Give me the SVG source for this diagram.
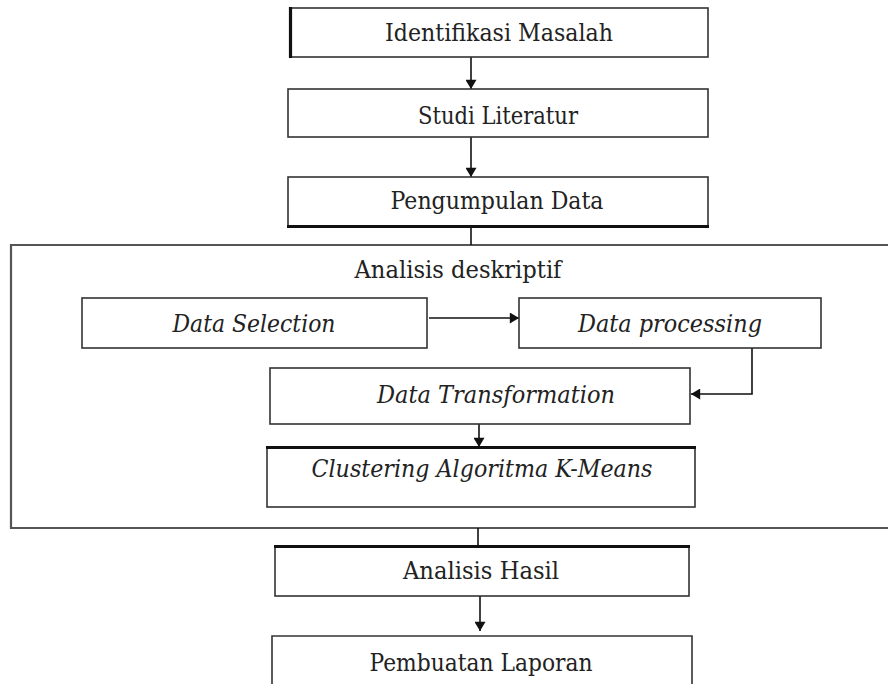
<svg xmlns="http://www.w3.org/2000/svg" width="888" height="684" viewBox="0 0 888 684">
<defs>
<marker id="ah" viewBox="0 0 10 12" refX="10" refY="6" markerWidth="11" markerHeight="11" markerUnits="userSpaceOnUse" orient="auto">
<path d="M0,0 L10,6 L0,12 Z" fill="#111"/>
</marker>
</defs>
<style>
.box{fill:#fff;stroke:#333;stroke-width:1.6}
.thick{stroke:#111;stroke-width:3.2;fill:none}
.cont{fill:none;stroke:#555;stroke-width:2.2}
text{font-family:'DejaVu Serif','Liberation Serif',serif;font-size:24px;fill:#222;text-anchor:middle}
.i{font-style:italic}
.c{fill:none;stroke:#111;stroke-width:1.6}
</style>
<rect width="888" height="684" fill="#fff"/>
<g id="container">
<path class="cont" d="M890 245 H11 V528 H890"/>
<text x="458" y="278" textLength="207" lengthAdjust="spacingAndGlyphs">Analisis deskriptif</text>
</g>
<g id="connectors">
<line class="c" x1="471" y1="57" x2="471" y2="89" marker-end="url(#ah)"/>
<line class="c" x1="471" y1="137" x2="471" y2="177" marker-end="url(#ah)"/>
<line class="c" x1="471" y1="227" x2="471" y2="245"/>
<line class="c" x1="429" y1="318" x2="519" y2="318" marker-end="url(#ah)"/>
<path class="c" d="M752 348 V394 H691" marker-end="url(#ah)"/>
<line class="c" x1="479" y1="424" x2="479" y2="447" marker-end="url(#ah)"/>
<line class="c" x1="478" y1="528" x2="478" y2="546"/>
<line class="c" x1="480" y1="596" x2="480" y2="631" marker-end="url(#ah)"/>
</g>
<g id="n1">
<rect class="box" x="290" y="8" width="418" height="49"/>
<line class="thick" x1="290.5" y1="7" x2="290.5" y2="58"/>
<text x="499" y="41" textLength="228" lengthAdjust="spacingAndGlyphs">Identifikasi Masalah</text>
</g>
<g id="n2">
<rect class="box" x="288" y="89" width="420" height="48"/>
<text x="498" y="124" textLength="160" lengthAdjust="spacingAndGlyphs">Studi Literatur</text>
</g>
<g id="n3">
<rect class="box" x="288" y="177" width="420" height="50"/>
<line class="thick" x1="287" y1="226.5" x2="709" y2="226.5"/>
<text x="497" y="209" textLength="213" lengthAdjust="spacingAndGlyphs">Pengumpulan Data</text>
</g>
<g id="n4">
<rect class="box" x="82" y="298" width="345" height="50"/>
<text class="i" x="254" y="332" textLength="163" lengthAdjust="spacingAndGlyphs">Data Selection</text>
</g>
<g id="n5">
<rect class="box" x="519" y="298" width="302" height="50"/>
<text class="i" x="670" y="332" textLength="184" lengthAdjust="spacingAndGlyphs">Data processing</text>
</g>
<g id="n6">
<rect class="box" x="270" y="368" width="420" height="56"/>
<text class="i" x="496" y="403" textLength="238" lengthAdjust="spacingAndGlyphs">Data Transformation</text>
</g>
<g id="n7">
<rect class="box" x="267" y="447" width="428" height="60"/>
<line class="thick" x1="266" y1="447.5" x2="696" y2="447.5"/>
<text class="i" x="482" y="477" textLength="341" lengthAdjust="spacingAndGlyphs">Clustering Algoritma K-Means</text>
</g>
<g id="n8">
<rect class="box" x="275" y="546" width="414" height="50"/>
<line class="thick" x1="274" y1="546.5" x2="690" y2="546.5"/>
<text x="481" y="579" textLength="156" lengthAdjust="spacingAndGlyphs">Analisis Hasil</text>
</g>
<g id="n9">
<path class="box" d="M272 690 V636 H692 V690"/>
<text x="481" y="671" textLength="223" lengthAdjust="spacingAndGlyphs">Pembuatan Laporan</text>
</g>
</svg>
